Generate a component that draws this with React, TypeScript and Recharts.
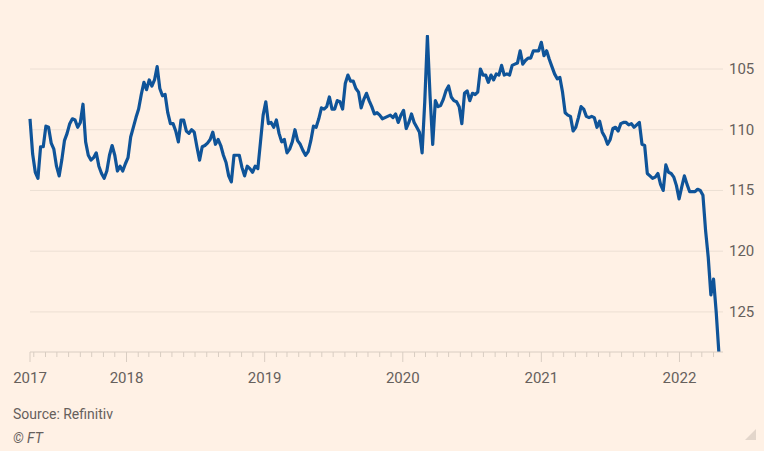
import { CartesianGrid, Line, LineChart, XAxis, YAxis } from "recharts"

// Dollar-yen, weekly closes, inverted axis (yen strength up)
const START = Date.UTC(2017, 3, 21)
const END = Date.UTC(2022, 3, 26)
const WEEK = 7 * 24 * 3600 * 1000

const yen2017 = [
  109.1, 112.0, 113.5, 114.0, 111.4, 111.4, 109.7, 109.8, 111.1, 111.6, 113.0, 113.8, 112.5, 110.9, 110.3, 109.5,
  109.1, 109.2, 109.8, 109.4, 107.9, 111.0, 112.1, 112.5, 112.3, 111.9, 113.0, 113.6, 114.0, 113.4, 112.1, 111.3,
  112.1, 113.4, 113.0, 113.4, 112.8,
]
const yen2018 = [
  112.3, 110.6, 109.8, 109.0, 108.3, 107.1, 106.1, 106.7, 105.9, 106.4, 105.9, 104.8, 106.6, 107.2, 107.1, 108.6,
  109.5, 109.5, 110.1, 111.0, 109.2, 109.2, 110.1, 110.3, 110.0, 110.2, 111.4, 112.5, 111.4, 111.3, 111.1, 110.8,
  110.2, 111.2, 110.8, 111.3, 112.1, 112.7, 113.8, 114.3, 112.1, 112.1, 112.1, 113.1, 113.8, 113.0, 113.2, 113.5,
  113.0, 113.2, 111.0, 108.8,
]
const yen2019 = [
  107.7, 109.5, 109.4, 109.8, 109.2, 110.3, 111.0, 110.8, 111.9, 111.6, 111.0, 110.0, 110.9, 111.2, 111.7, 112.1,
  111.8, 110.9, 109.7, 109.8, 109.1, 108.2, 108.3, 108.1, 107.3, 108.3, 108.3, 107.6, 107.7, 108.3, 106.2, 105.5,
  106.0, 106.0, 106.6, 106.9, 108.2, 107.5, 107.0, 107.6, 108.1, 108.7, 108.6, 108.8, 109.1, 109.0, 108.9, 108.8,
  109.0, 108.7, 109.4, 108.8,
]
const yen2020 = [
  108.4, 109.9, 109.4, 108.7, 109.4, 109.8, 110.2, 111.9, 107.7, 102.3, 107.2, 111.2, 107.6, 108.1, 108.0, 107.5,
  106.8, 106.4, 107.3, 107.6, 107.7, 108.1, 109.5, 107.0, 106.8, 107.6, 107.0, 107.1, 106.9, 105.0, 105.5, 105.5,
  106.1, 105.5, 105.9, 105.4, 105.5, 104.7, 105.5, 105.4, 105.5, 104.7, 104.6, 104.5, 103.5, 104.6, 104.3, 104.1,
  104.1, 103.5, 103.5, 103.5,
]
const yen2021 = [
  102.8, 103.9, 103.5, 104.2, 104.8, 105.4, 105.8, 105.7, 106.9, 108.6, 108.8, 108.9, 110.1, 109.8, 109.0, 108.1,
  108.3, 108.9, 109.0, 108.9, 109.0, 109.8, 109.3, 110.2, 110.6, 111.2, 110.8, 109.9, 109.8, 110.1, 109.5, 109.4,
  109.4, 109.6, 109.5, 109.8, 109.6, 109.4, 111.2, 111.3, 113.6, 113.8, 114.0, 113.9, 113.6, 114.5, 115.0, 112.9,
  113.5, 113.6, 113.9, 114.6,
]
const yen2022 = [115.7, 114.7, 113.8, 114.5, 115.1, 115.1, 115.1, 114.9, 115.0, 115.4, 118.3, 120.5, 123.6, 122.3, 125.0, 128.3]

const weeklyClose = [...yen2017, ...yen2018, ...yen2019, ...yen2020, ...yen2021, ...yen2022]
const data = weeklyClose.map((value, i) => ({ date: START + i * WEEK, value }))

const yearTicks = [START, Date.UTC(2018, 0, 1), Date.UTC(2019, 0, 1), Date.UTC(2020, 0, 1), Date.UTC(2021, 0, 1), Date.UTC(2022, 0, 1)]
const yearLabels = ["2017", "2018", "2019", "2020", "2021", "2022"]
const yTicks = [105, 110, 115, 120, 125]

// month marks along the axis
const monthTicks: number[] = []
for (let y = 2017; y <= 2022; y++) {
  for (let m = 0; m < 12; m++) {
    const t = Date.UTC(y, m, 1)
    if (t > START && t < END && m !== 0) monthTicks.push(t)
  }
}
const xTicks = [...yearTicks, ...monthTicks].sort((a, b) => a - b)

const FONT = "Roboto, 'Liberation Sans', sans-serif"
const TEXT = "#66605c"
const RULE = "#d9cdc2"

function XTick(props: any) {
  const { x, y, payload } = props
  const i = yearTicks.indexOf(payload.value)
  const major = i >= 0
  return (
    <g>
      <line x1={x} x2={x} y1={y} y2={y + (major ? 10 : 5)} stroke={RULE} strokeWidth={1} />
      {major && (
        <text x={x} y={y + 31} textAnchor="middle" fill={TEXT} fontSize={15} fontFamily={FONT}>
          {yearLabels[i]}
        </text>
      )}
    </g>
  )
}

function YTick(props: any) {
  const { x, y, payload } = props
  return (
    <text x={x + 6} y={y + 5} textAnchor="start" fill={TEXT} fontSize={15} fontFamily={FONT}>
      {payload.value}
    </text>
  )
}

export default function App() {
  return (
    <div style={{ position: "fixed", left: 0, top: 0, width: 764, height: 451, background: "#fff1e5", fontFamily: FONT }}>
      <LineChart width={764} height={400} data={data} margin={{ top: 35, right: 0, bottom: 0, left: 30 }}>
        <CartesianGrid vertical={false} horizontalValues={yTicks} stroke="#ecdfd4" strokeWidth={1} />
        <XAxis
          dataKey="date"
          type="number"
          scale="time"
          domain={[START, END]}
          ticks={xTicks}
          interval={0}
          height={48}
          tickSize={0}
          tickMargin={0}
          tick={<XTick />}
          axisLine={{ stroke: RULE, strokeWidth: 1 }}
          tickLine={false}
        />
        <YAxis
          orientation="right"
          reversed
          domain={[102.2, 128.3]}
          allowDataOverflow
          ticks={yTicks}
          width={41}
          tickSize={0}
          tickMargin={0}
          tick={<YTick />}
          axisLine={false}
          tickLine={false}
        />
        <Line
          type="linear"
          dataKey="value"
          stroke="#0f5499"
          strokeWidth={3.2}
          strokeLinejoin="round"
          dot={false}
          isAnimationActive={false}
        />
      </LineChart>
      <div style={{ position: "absolute", left: 13, top: 406, fontSize: 14, color: TEXT }}>Source: Refinitiv</div>
      <div style={{ position: "absolute", left: 13, top: 430, fontSize: 14, color: TEXT, fontStyle: "italic" }}>© FT</div>
      <svg style={{ position: "absolute", left: 744, top: 428 }} width={14} height={14}>
        <polygon points="12,1 12,12 1,12" fill="#e3d6cb" />
      </svg>
    </div>
  )
}
